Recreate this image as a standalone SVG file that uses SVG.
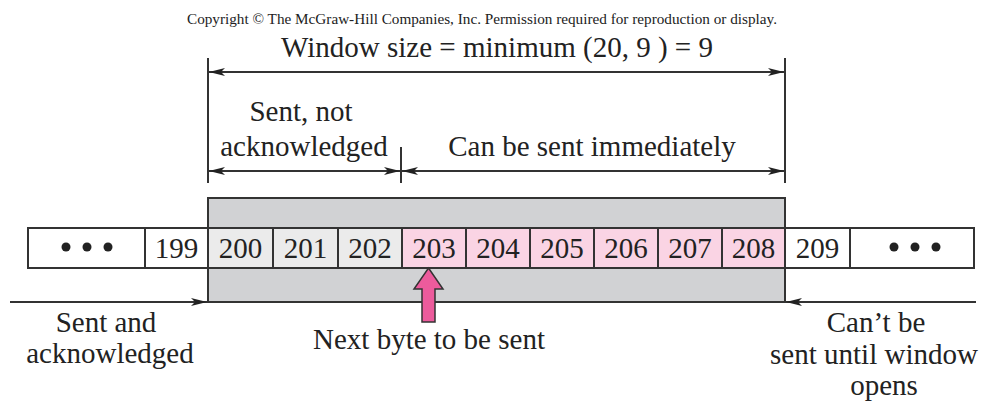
<svg xmlns="http://www.w3.org/2000/svg" width="983" height="406" viewBox="0 0 983 406">
<style>
text{font-family:"Liberation Serif","Times New Roman",serif;fill:#222;}
.lbl{font-size:29px;text-anchor:middle;}
.num{font-size:29px;text-anchor:middle;}
.cell{stroke:#333;stroke-width:2;}
.w{fill:#fff;}
.g{fill:#ebebeb;}
.p{fill:#fad4e4;}
.ln{stroke:#333;stroke-width:2;fill:none;}
.dot{fill:#222;}
</style>
<defs>
<marker id="ah" viewBox="0 0 16 8" refX="16" refY="4" markerWidth="16" markerHeight="8" markerUnits="userSpaceOnUse" orient="auto-start-reverse">
<path d="M0,0 L16,4 L0,8 L4,4 Z" fill="#222"/>
</marker>
</defs>
<rect width="983" height="406" fill="#fff"/>
<text x="482" y="24" style="font-size:14px;text-anchor:middle" textLength="590" lengthAdjust="spacingAndGlyphs">Copyright © The McGraw-Hill Companies, Inc. Permission required for reproduction or display.</text>
<g id="window">
<rect x="208" y="198" width="577" height="104" fill="#d1d2d4" stroke="#333" stroke-width="2"/>
</g>
<g id="cells">
<rect class="cell w" x="28" y="228" width="117" height="40"/>
<circle class="dot" cx="66" cy="247" r="4.5"/><circle class="dot" cx="87" cy="247" r="4.5"/><circle class="dot" cx="108" cy="247" r="4.5"/>
<rect class="cell w" x="145" y="228" width="63" height="40"/><text class="num" x="176.5" y="258">199</text>
<rect class="cell g" x="208" y="228" width="65" height="40"/><text class="num" x="240.5" y="258">200</text>
<rect class="cell g" x="273" y="228" width="65" height="40"/><text class="num" x="305.5" y="258">201</text>
<rect class="cell g" x="338" y="228" width="64" height="40"/><text class="num" x="370" y="258">202</text>
<rect class="cell p" x="402" y="228" width="64" height="40"/><text class="num" x="434" y="258">203</text>
<rect class="cell p" x="466" y="228" width="64" height="40"/><text class="num" x="498" y="258">204</text>
<rect class="cell p" x="530" y="228" width="64" height="40"/><text class="num" x="562" y="258">205</text>
<rect class="cell p" x="594" y="228" width="64" height="40"/><text class="num" x="626" y="258">206</text>
<rect class="cell p" x="658" y="228" width="64" height="40"/><text class="num" x="690" y="258">207</text>
<rect class="cell p" x="722" y="228" width="63" height="40"/><text class="num" x="753.5" y="258">208</text>
<rect class="cell w" x="785" y="228" width="65" height="40"/><text class="num" x="817.5" y="258">209</text>
<rect class="cell w" x="850" y="228" width="124" height="40"/>
<circle class="dot" cx="894" cy="247" r="4.5"/><circle class="dot" cx="915" cy="247" r="4.5"/><circle class="dot" cx="936" cy="247" r="4.5"/>
</g>
<g id="connectors">
<line class="ln" x1="208" y1="58" x2="208" y2="183"/>
<line class="ln" x1="785" y1="58" x2="785" y2="183"/>
<line class="ln" x1="401" y1="147" x2="401" y2="183"/>
<line class="ln" x1="209" y1="72" x2="784" y2="72" marker-start="url(#ah)" marker-end="url(#ah)"/>
<line class="ln" x1="209" y1="171" x2="400" y2="171" marker-start="url(#ah)" marker-end="url(#ah)"/>
<line class="ln" x1="402" y1="171" x2="784" y2="171" marker-start="url(#ah)" marker-end="url(#ah)"/>
<line class="ln" x1="10" y1="302" x2="207" y2="302" marker-end="url(#ah)"/>
<line class="ln" x1="976" y1="302" x2="786" y2="302" marker-end="url(#ah)"/>
<path d="M428.5,268 L443,289 L435,289 L435,322 L422,322 L422,289 L414,289 Z" fill="#ec5b9c" stroke="#333" stroke-width="1.5"/>
</g>
<g id="labels">
<text class="lbl" x="497" y="57">Window size = minimum (20, 9 ) = 9</text>
<text class="lbl" x="301" y="121">Sent, not</text>
<text class="lbl" x="304" y="156">acknowledged</text>
<text class="lbl" x="592" y="156">Can be sent immediately</text>
<text class="lbl" x="106" y="332">Sent and</text>
<text class="lbl" x="110" y="363">acknowledged</text>
<text class="lbl" x="429" y="349">Next byte to be sent</text>
<text class="lbl" x="876" y="332">Can’t be</text>
<text class="lbl" x="874" y="364" textLength="208" lengthAdjust="spacingAndGlyphs">sent until window</text>
<text class="lbl" x="884" y="395">opens</text>
</g>
</svg>
